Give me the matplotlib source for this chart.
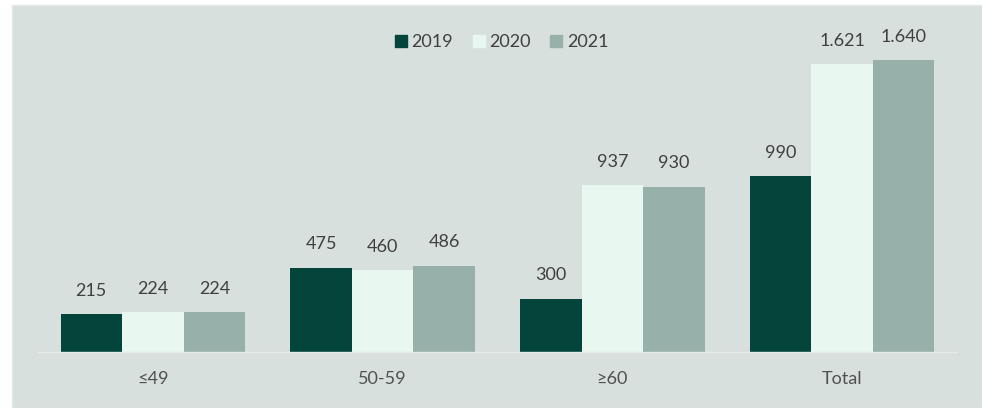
import matplotlib
matplotlib.use("Agg")
import matplotlib.pyplot as plt
from matplotlib.patches import Rectangle
from matplotlib.lines import Line2D
import numpy as np

categories = ["≤49", "50-59", "≥60", "Total"]
years = ["2019", "2020", "2021"]
v2019 = [215, 475, 300, 990]
v2020 = [224, 460, 937, 1621]
v2021 = [224, 486, 930, 1640]
series = [v2019, v2020, v2021]
colors = ["#03453a", "#e8f7f0", "#97b0aa"]

plt.rcParams['font.family'] = ['Lato', 'DejaVu Sans']
W, H = 982, 408
fig = plt.figure(figsize=(W / 100, H / 100), dpi=100)
fig.patch.set_facecolor("white")
bg = "#d8e0de"
fig.patches.append(Rectangle((12 / W, 0), 1 - 12 / W, (H - 5) / H,
                             transform=fig.transFigure, facecolor=bg,
                             edgecolor="#e4e8e7", linewidth=1, zorder=-10))

ax_left, ax_right = 38 / W, 957 / W
ax_bottom = (H - 352) / H
ax_top_px = 32
ax = fig.add_axes([ax_left, ax_bottom, ax_right - ax_left, (352 - ax_top_px) / H])
ax.set_facecolor("none")

x = np.arange(len(categories))
bw = 0.268
for i, (vals, c, yr) in enumerate(zip(series, colors, years)):
    pos = x + (i - 1) * bw
    bars = ax.bar(pos, vals, width=bw, color=c, label=yr, zorder=2)
    for xp, v in zip(pos, vals):
        lbl = f"{v:,}".replace(",", ".")
        ax.annotate(lbl, (xp, v), xytext=(0, 11), textcoords="offset points",
                    ha="center", va="bottom", fontsize=13, color="#404040")

ax.set_xlim(-0.5, 3.5)
ax.set_ylim(0, 1800)
ax.set_yticks([])
ax.set_xticks(x)
ax.set_xticklabels(categories, fontsize=13, color="#505050")
ax.tick_params(axis="x", length=0, pad=14)
for s in ["top", "right", "left"]:
    ax.spines[s].set_visible(False)
ax.spines["bottom"].set_color("#e6eae9")
ax.spines["bottom"].set_linewidth(1)

handles = [Line2D([0], [0], marker="s", linestyle="none", markersize=8,
                  markerfacecolor=c, markeredgecolor=c) for c in colors]
fig.legend(handles, years, loc="center", bbox_to_anchor=(501 / W, (H - 42) / H),
           ncol=3, frameon=False, fontsize=13, handletextpad=0.2,
           columnspacing=1.0, labelcolor="#404040", handlelength=0.8)

fig.savefig("out.png", dpi=100, facecolor="white")
